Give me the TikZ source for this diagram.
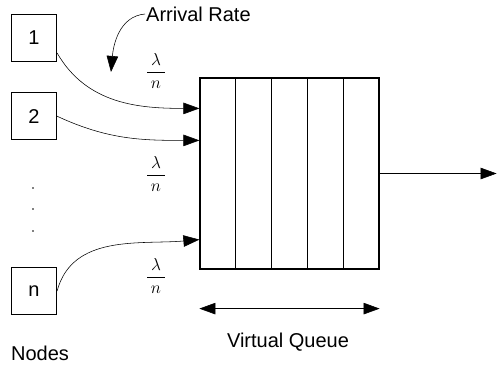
\documentclass[tikz,border=0pt]{standalone}
\usepackage{amsmath}
\usepackage{fontspec}
\setmainfont{Liberation Sans}
\usetikzlibrary{arrows.meta, positioning, calc}
\tikzset{
    hostbox/.style={rectangle, draw=black, line width=1.2pt, minimum width=45pt, minimum height=47pt, font=\fontsize{20}{24}\selectfont},
    queuebox/.style={rectangle, draw=black, line width=1.2pt, minimum width=179pt, minimum height=191pt},
    arrow/.style={-{Triangle[length=16pt, width=11.5pt]}, line width=0.55pt, black},
    biarrow/.style={{Triangle[length=16pt, width=11.5pt]}-{Triangle[length=16pt, width=11.5pt]}, line width=0.55pt, black},
    ratefrac/.style={font=\fontsize{17}{20}\selectfont, inner sep=1pt},
    caption/.style={font=\fontsize{20}{24}\selectfont, inner sep=1pt},
}

\begin{document}
\begin{tikzpicture}[x=1pt, y=1pt, node distance=30pt]
\useasboundingbox (0,0) rectangle (497,-370);

% sending nodes
\node[hostbox] (host1) at (34,-38) {1};
\node[hostbox, below=30pt of host1] (host2) {2};
\node[hostbox] (hostn) at (34,-291) {n};
\foreach \y in {188,209,231}
    \fill (33,-\y) circle (0.8pt);
\node[caption] (nodes-label) at (40,-353) {Nodes};

% the queue, five slots
\node[queuebox] (queue) at (289.5,-173.5) {};
\foreach \i in {1,...,4}
    \draw[line width=1.2pt] ($(queue.north west)!\i/5!(queue.north east)$) -- ($(queue.south west)!\i/5!(queue.south east)$);

\coordinate (in1) at ([yshift=-31pt]queue.north west);
\coordinate (in2) at ([yshift=-63pt]queue.north west);
\coordinate (inn) at ([yshift=30pt]queue.south west);
\coordinate (exit) at ([xshift=117pt]queue.east);

\draw[arrow] ([yshift=-15pt]host1.east) to[out=-60, in=180] (in1);
\draw[arrow] (host2.east) to[out=-25, in=180] (in2);
\draw[arrow] (hostn.east) to[out=75, in=185] (inn);
\draw[arrow] (queue.east) -- (exit);

% rates on each input
\node[ratefrac] (rate1) at (156,-71) {$\dfrac{\:\lambda\:}{n}$};
\node[ratefrac] (rate2) at (156,-174) {$\dfrac{\:\lambda\:}{n}$};
\node[ratefrac] (raten) at (156,-276) {$\dfrac{\:\lambda\:}{n}$};

\node[caption, anchor=west] (arrival) at (145,-14) {Arrival Rate};
\coordinate (rate-tip) at (111,-72);
\draw[arrow] (arrival.west) to[out=185, in=85] (rate-tip);

% queue length
\coordinate (span-l) at ([yshift=-39pt]queue.south west);
\coordinate (span-r) at ([yshift=-39pt]queue.south east);
\draw[biarrow] (span-l) -- (span-r);
\node[caption] (queue-label) at (288,-342) {Virtual Queue};

\end{tikzpicture}
\end{document}
